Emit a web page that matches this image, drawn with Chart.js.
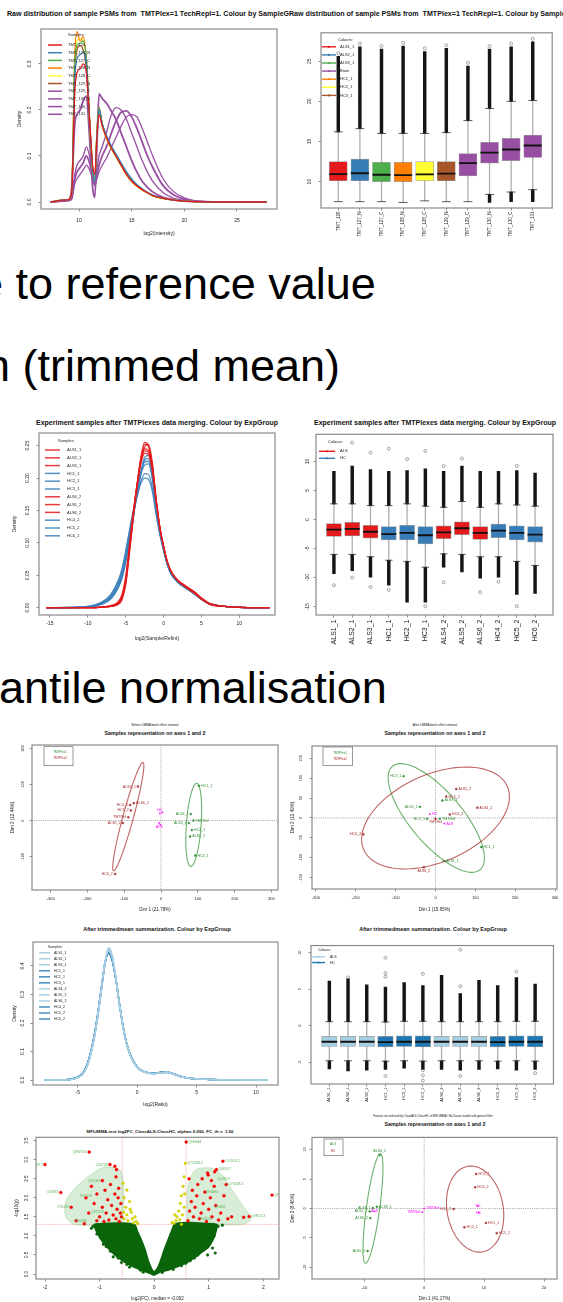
<!DOCTYPE html>
<html>
<head>
<meta charset="utf-8">
<title>TMT normalisation overview</title>
<script src="https://cdn.jsdelivr.net/npm/chart.js@4.4.1/dist/chart.umd.min.js"></script>
<style>
  html, body { margin: 0; padding: 0; background: #fff; }
  #page { position: relative; width: 563px; height: 1302px; overflow: hidden; background: #fff;
          font-family: 'Liberation Sans', Arial, Helvetica, sans-serif; color: #111; }
  #page canvas { position: absolute; }
  .big { position: absolute; font-size: 45px; line-height: 45px; white-space: nowrap; color: #000; }
  .t { position: absolute; white-space: nowrap; line-height: 1; transform: translate(-50%, -50%); }
  .l { transform: translateY(-50%); }
  .b { font-weight: bold; }
  .clip { position: absolute; overflow: hidden; }
</style>
</head>
<body>
<div id="page">
  <div class="clip" style="left:0;top:9px;width:289px;height:12px">
    <div class="t b l" style="left:7px;top:6px;font-size:7.1px">Raw distribution of sample PSMs from&nbsp; TMTPlex=1 TechRepl=1. Colour by SampleGroup</div>
  </div>
  <div class="t b l" style="left:289px;top:15px;font-size:7.1px">Raw distribution of sample PSMs from&nbsp; TMTPlex=1 TechRepl=1. Colour by SampleGroup</div>

  <div class="big" style="left:-22px;top:261px">e to reference value</div>
  <div class="big" style="left:-15px;top:343px">n (trimmed mean)</div>

  <div class="t b" style="left:157px;top:422px;font-size:7px">Experiment samples after TMTPlexes data merging. Colour by ExpGroup</div>
  <div class="t b" style="left:435px;top:422px;font-size:7px">Experiment samples after TMTPlexes data merging. Colour by ExpGroup</div>

  <div class="big" style="left:-61px;top:665px">Quantile normalisation</div>

  <div class="t" style="left:155px;top:725px;font-size:3px">Before LIMMA batch effect removal</div>
  <div class="t b" style="left:155px;top:734px;font-size:5.3px">Samples representation on axes 1 and 2</div>
  <div class="t" style="left:435px;top:725px;font-size:3px">After LIMMA batch effect removal</div>
  <div class="t b" style="left:435px;top:734px;font-size:5.3px">Samples representation on axes 1 and 2</div>

  <div class="t b" style="left:157px;top:930px;font-size:5.5px">After trimmedmean summarization. Colour by ExpGroup</div>
  <div class="t b" style="left:433px;top:930px;font-size:5.5px">After trimmedmean summarization. Colour by ExpGroup</div>

  <div class="t b" style="left:160px;top:1132px;font-size:4.4px">MFLIMMA-test log2FC_ClassALS-ClassHC, alpha= 0.050, FC_th =&nbsp; 1.50</div>
  <div class="t" style="left:433px;top:1116px;font-size:2.9px">Feature set selected by ClassALS-ClassHC of MFLIMMA / H=Classic model and general filter</div>
  <div class="t b" style="left:435px;top:1125px;font-size:5.3px">Samples representation on axes 1 and 2</div>
</div>

<script>
// ---------------- data ----------------

// raw PSM intensity densities, TMTPlex=1
const rawSamples = ['TMT_126', 'TMT_127_N', 'TMT_127_C', 'TMT_128_N', 'TMT_128_C', 'TMT_129_N', 'TMT_129_C', 'TMT_130_N', 'TMT_130_C', 'TMT_131'];
const rawX = [7.3, 8.5, 9.0, 9.3, 9.6, 9.8, 10.1, 10.4, 10.7, 11.0, 11.3, 11.5, 11.7, 11.9, 12.2, 12.6, 13.0, 13.5, 14.0, 14.5, 15.0, 15.5, 16.0, 16.5, 17.0, 18.0, 19.0, 20.0, 21.0, 22.0, 24.0, 27.8];
const raw126  = [0, 0.004, 0.005, 0.02, 0.24, 0.28, 0.29, 0.30, 0.28, 0.18, 0.08, 0.06, 0.14, 0.19, 0.165, 0.14, 0.12, 0.10, 0.08, 0.06, 0.045, 0.035, 0.027, 0.02, 0.014, 0.008, 0.004, 0.002, 0.001, 0.0005, 0, 0];
const raw127N = [0, 0.004, 0.005, 0.02, 0.27, 0.31, 0.32, 0.325, 0.30, 0.18, 0.07, 0.045, 0.14, 0.20, 0.17, 0.145, 0.125, 0.105, 0.085, 0.066, 0.05, 0.038, 0.029, 0.021, 0.015, 0.008, 0.004, 0.002, 0.001, 0.0005, 0, 0];
const raw127C = [0, 0.004, 0.005, 0.02, 0.30, 0.34, 0.345, 0.35, 0.31, 0.18, 0.065, 0.045, 0.15, 0.205, 0.17, 0.142, 0.12, 0.10, 0.08, 0.062, 0.047, 0.036, 0.027, 0.02, 0.014, 0.008, 0.004, 0.002, 0.001, 0.0005, 0, 0];
const raw128N = [0, 0.004, 0.005, 0.02, 0.32, 0.37, 0.35, 0.36, 0.31, 0.18, 0.07, 0.05, 0.15, 0.20, 0.17, 0.14, 0.12, 0.10, 0.08, 0.06, 0.045, 0.035, 0.027, 0.02, 0.014, 0.008, 0.004, 0.002, 0.001, 0.0005, 0, 0];
const raw128C = [0, 0.004, 0.005, 0.02, 0.31, 0.35, 0.355, 0.35, 0.31, 0.18, 0.07, 0.05, 0.15, 0.20, 0.165, 0.138, 0.118, 0.098, 0.078, 0.059, 0.044, 0.034, 0.026, 0.019, 0.013, 0.007, 0.004, 0.002, 0.001, 0.0005, 0, 0];
const raw129N = [0, 0.004, 0.005, 0.02, 0.28, 0.33, 0.34, 0.33, 0.29, 0.17, 0.07, 0.05, 0.15, 0.205, 0.17, 0.142, 0.12, 0.10, 0.08, 0.06, 0.046, 0.035, 0.027, 0.02, 0.014, 0.008, 0.004, 0.002, 0.001, 0.0005, 0, 0];
const raw129C = [0, 0.003, 0.005, 0.03, 0.17, 0.19, 0.20, 0.22, 0.23, 0.14, 0.03, 0.01, 0.12, 0.235, 0.225, 0.215, 0.20, 0.18, 0.15, 0.12, 0.09, 0.065, 0.045, 0.032, 0.022, 0.01, 0.005, 0.002, 0.001, 0, 0, 0];
const raw130N = [0, 0.002, 0.004, 0.01, 0.06, 0.08, 0.09, 0.10, 0.12, 0.10, 0.06, 0.045, 0.07, 0.10, 0.12, 0.15, 0.185, 0.205, 0.20, 0.18, 0.15, 0.12, 0.09, 0.065, 0.045, 0.02, 0.008, 0.003, 0.001, 0.0005, 0, 0];
const raw130C = [0, 0.002, 0.003, 0.008, 0.05, 0.065, 0.075, 0.085, 0.10, 0.085, 0.055, 0.04, 0.06, 0.08, 0.10, 0.12, 0.145, 0.175, 0.195, 0.198, 0.185, 0.16, 0.13, 0.10, 0.075, 0.035, 0.015, 0.006, 0.002, 0.001, 0, 0];
const raw131  = [0, 0.002, 0.003, 0.006, 0.04, 0.05, 0.06, 0.07, 0.08, 0.07, 0.05, 0.035, 0.05, 0.065, 0.08, 0.095, 0.115, 0.14, 0.165, 0.185, 0.19, 0.185, 0.16, 0.13, 0.10, 0.05, 0.022, 0.009, 0.003, 0.001, 0.0005, 0];
const rawXTicks = [10, 15, 20, 25];
const rawYTicks = [0, 0.1, 0.2, 0.3];

// raw boxplot (same samples), legend groups
const rawGroups = ['ALS1_1', 'ALS2_1', 'ALS3_1', 'Brain', 'HC1_1', 'HC2_1', 'HC3_1'];
const rawQ1     = [10.1, 10.1, 10.0, 10.0, 10.1, 10.1, 10.7, 12.3, 12.6, 13.0];
const rawMed    = [10.94, 11.04, 10.85, 10.8, 10.9, 11.0, 12.3, 13.6, 14.0, 14.5];
const rawQ3     = [12.5, 12.8, 12.4, 12.4, 12.5, 12.5, 13.5, 14.9, 15.4, 15.8];
const rawWhLo   = [7.5, 7.5, 7.5, 7.4, 7.6, 7.5, 7.5, 8.4, 8.7, 9.0];
const rawWhHi   = [16.2, 16.6, 16.0, 16.0, 16.0, 16.1, 17.6, 19.1, 20.0, 20.1];
const rawOutLo  = [null, null, null, null, null, null, null, 7.4, 7.5, 7.5];
const rawOutHi  = [25.6, 26.8, 26.5, 26.9, 26.2, 26.6, 24.4, 26.5, 26.8, 27.4];
const rawSpX    = [1, 2, 3, 4, 5, 6, 7, 8, 9, 10];
const rawSpY    = [26.0, 27.2, 26.9, 27.3, 26.6, 27.0, 24.8, 26.9, 27.2, 27.8];
const rawBoxYTicks = [10, 15, 20, 25];

// merged experiment (relative to reference)
const mergeSamples = ['ALS1_1', 'ALS2_1', 'ALS3_1', 'HC1_1', 'HC2_1', 'HC3_1', 'ALS4_2', 'ALS5_2', 'ALS6_2', 'HC4_2', 'HC5_2', 'HC6_2'];
const mergeGroup   = ['ALS', 'ALS', 'ALS', 'HC', 'HC', 'HC', 'ALS', 'ALS', 'ALS', 'HC', 'HC', 'HC'];
const mergeX = [-15.5, -10, -8, -7, -6, -5.5, -5, -4.5, -4, -3.5, -3, -2.5, -2, -1.5, -1, -0.5, 0, 0.5, 1, 1.5, 2, 3, 4, 5, 6, 8, 10, 14];
const mALS1_1 = [0, 0, 0.001, 0.002, 0.006, 0.015, 0.04, 0.09, 0.14, 0.185, 0.225, 0.248, 0.252, 0.225, 0.17, 0.125, 0.095, 0.07, 0.055, 0.046, 0.04, 0.032, 0.024, 0.014, 0.006, 0.002, 0.0005, 0];
const mALS2_1 = [0, 0, 0.001, 0.002, 0.007, 0.017, 0.043, 0.093, 0.145, 0.19, 0.228, 0.245, 0.243, 0.218, 0.168, 0.124, 0.094, 0.07, 0.056, 0.047, 0.04, 0.031, 0.023, 0.013, 0.006, 0.002, 0.0005, 0];
const mALS3_1 = [0, 0, 0.001, 0.003, 0.009, 0.02, 0.048, 0.098, 0.148, 0.19, 0.222, 0.238, 0.236, 0.212, 0.165, 0.123, 0.094, 0.071, 0.056, 0.047, 0.041, 0.032, 0.024, 0.014, 0.006, 0.002, 0.0005, 0];
const mHC1_1  = [0, 0.001, 0.008, 0.016, 0.035, 0.05, 0.075, 0.11, 0.14, 0.175, 0.205, 0.22, 0.222, 0.2, 0.155, 0.118, 0.09, 0.067, 0.052, 0.044, 0.038, 0.03, 0.022, 0.013, 0.006, 0.002, 0.0005, 0];
const mHC2_1  = [0, 0.001, 0.006, 0.013, 0.03, 0.045, 0.07, 0.105, 0.14, 0.178, 0.21, 0.228, 0.23, 0.205, 0.158, 0.12, 0.091, 0.068, 0.053, 0.045, 0.039, 0.03, 0.022, 0.013, 0.006, 0.002, 0.0005, 0];
const mHC3_1  = [0, 0.002, 0.01, 0.02, 0.042, 0.06, 0.088, 0.12, 0.15, 0.172, 0.192, 0.2, 0.198, 0.18, 0.145, 0.113, 0.088, 0.066, 0.052, 0.044, 0.038, 0.03, 0.022, 0.013, 0.006, 0.002, 0.0005, 0];
const mALS4_2 = [0, 0, 0.001, 0.002, 0.006, 0.014, 0.038, 0.088, 0.14, 0.188, 0.23, 0.252, 0.25, 0.222, 0.168, 0.124, 0.094, 0.07, 0.055, 0.047, 0.041, 0.033, 0.025, 0.015, 0.007, 0.002, 0.0005, 0];
const mALS5_2 = [0, 0, 0.001, 0.002, 0.005, 0.012, 0.035, 0.085, 0.138, 0.19, 0.232, 0.255, 0.25, 0.218, 0.165, 0.122, 0.093, 0.07, 0.055, 0.046, 0.04, 0.032, 0.025, 0.015, 0.007, 0.002, 0.0005, 0];
const mALS6_2 = [0, 0, 0.001, 0.003, 0.008, 0.018, 0.045, 0.095, 0.146, 0.19, 0.225, 0.242, 0.24, 0.215, 0.166, 0.123, 0.094, 0.07, 0.055, 0.046, 0.04, 0.032, 0.024, 0.014, 0.006, 0.002, 0.0005, 0];
const mHC4_2  = [0, 0.001, 0.007, 0.014, 0.032, 0.047, 0.072, 0.108, 0.142, 0.178, 0.208, 0.225, 0.226, 0.203, 0.157, 0.119, 0.09, 0.067, 0.052, 0.044, 0.038, 0.03, 0.022, 0.013, 0.006, 0.002, 0.0005, 0];
const mHC5_2  = [0, 0.002, 0.009, 0.018, 0.04, 0.057, 0.084, 0.116, 0.146, 0.172, 0.195, 0.207, 0.206, 0.186, 0.148, 0.115, 0.089, 0.067, 0.052, 0.044, 0.038, 0.03, 0.022, 0.013, 0.006, 0.002, 0.0005, 0];
const mHC6_2  = [0, 0.001, 0.008, 0.016, 0.036, 0.052, 0.078, 0.112, 0.144, 0.178, 0.208, 0.232, 0.235, 0.21, 0.16, 0.12, 0.091, 0.068, 0.053, 0.045, 0.039, 0.031, 0.023, 0.013, 0.006, 0.002, 0.0005, 0];
const mergeXTicks = [-15, -10, -5, 0, 5, 10];
const mergeYTicks = [0, 0.05, 0.10, 0.15, 0.20, 0.25];

const mergeQ1   = [-2.9, -2.8, -3.2, -3.5, -3.5, -4.2, -3.3, -2.6, -3.4, -3.1, -3.5, -3.9];
const mergeMed  = [-1.75, -1.6, -2.1, -2.5, -2.3, -2.7, -2.2, -1.5, -2.3, -1.9, -2.3, -2.6];
const mergeQ3   = [-0.7, -0.5, -1.0, -1.2, -1.0, -1.2, -1.1, -0.4, -1.2, -0.8, -1.1, -1.2];
const mergeWhLo = [-6.0, -6.0, -6.4, -7.0, -7.2, -8.2, -5.9, -6.0, -6.4, -6.4, -7.2, -7.9];
const mergeWhHi = [2.7, 2.7, 2.4, 2.4, 2.7, 2.3, 2.1, 3.1, 2.1, 2.7, 2.5, 2.3];
const mergeOutLo = [-9.3, -8.8, -9.9, -11.3, -14.2, -14.2, -8.2, -9.0, -10.1, -9.9, -12.9, -12.7];
const mergeOutHi = [8.3, 9.2, 8.6, 8.3, 8.4, 8.7, 8.3, 9.2, 8.3, 8.3, 8.4, 8.0];
const mergeSpX = [1, 2, 2, 3, 3, 4, 4, 5, 6, 6, 7, 7, 8, 9, 10, 11, 11];
const mergeSpY = [-11.3, 13.2, -10.0, 11.5, -11.6, 12.2, -12.1, 10.4, 11.8, -14.9, 9.2, -10.8, 10.5, -12.5, -10.7, 9.2, -14.9];
const mergeBoxYTicks = [-15, -10, -5, 0, 5, 10];

// PCA before LIMMA batch removal
const pbP1Names = ['HC1_1', 'ALS3_1', 'ALS2_1', 'TMTRef', 'HC2_1', 'ALS1_1', 'HC3_1'];
const pbP1X = [103, 81, 76, 88, 84, 79, 93];
const pbP1Y = [96, 18, -7, 0, -26, -44, -97];
const pbP2Names = ['ALS4_2', 'HC4_2', 'ALS6_2', 'HC5_2', 'TMTRef', 'ALS5_2', 'HC6_2'];
const pbP2X = [-63, -84, -74, -82, -89, -104, -125];
const pbP2Y = [94, 43, 48, 28, 9, -7, -148];
const pbCenNames = ['HC', '', 'ALS', ''];
const pbCenX = [-3, 4, -5, -2];
const pbCenY = [20, 22, -7, -12];
const pbEll1 = [89, -12, 8, 115, 20, -1];      // centre x,y ; axis u ; axis v
const pbEll2 = [-89, 11, 40, 150, 14, -3];
const pcaBXTicks = [-300, -200, -100, 0, 100, 200, 300];
const pcaBYTicks = [-100, 0, 100, 200];

// PCA after LIMMA batch removal
const paP1Names = ['HC3_1', 'ALS2_1', 'HC2_1', 'ALS3_1', 'TMTRef', 'HC1_1', 'ALS1_1'];
const paP1X = [-80, -39, -21, 17, 11, 115, 21];
const paP1Y = [105, 28, -2, 44, -2, -73, -108];
const paP2Names = ['ALS5_2', 'HC5_2', 'ALS4_2', 'HC4_2', 'TMTRef', 'HC6_2', 'ALS6_2'];
const paP2X = [52, 27, 105, 36, 0, -181, -29];
const paP2Y = [73, 54, 26, 9, -2, -41, -124];
const paCenNames = ['HC', 'ALS'];
const paCenX = [-14, 22];
const paCenY = [10, -14];
const paEll1 = [2, 0, -110, 130, 50, 42];
const paEll2 = [0, 0, 180, 80, -45, 100];
const pcaAXTicks = [-300, -200, -100, 0, 100, 200, 300];
const pcaAYTicks = [-150, -100, -50, 0, 50, 100, 150];

// after trimmed-mean summarisation
const trimX = [-7.8, -6, -5.2, -4.6, -4.2, -3.8, -3.4, -3.0, -2.7, -2.4, -2.1, -1.8, -1.5, -1.2, -0.9, -0.5, 0, 0.5, 1, 1.5, 2, 2.5, 3, 3.5, 4, 5, 6, 8, 11];
const tALS1_1 = [0, 0.001, 0.006, 0.021, 0.052, 0.112, 0.205, 0.325, 0.415, 0.46, 0.432, 0.358, 0.268, 0.188, 0.128, 0.079, 0.045, 0.03, 0.024, 0.023, 0.026, 0.027, 0.022, 0.014, 0.009, 0.004, 0.002, 0.0005, 0];
const tALS2_1 = [0, 0.001, 0.005, 0.019, 0.049, 0.108, 0.198, 0.318, 0.41, 0.452, 0.428, 0.36, 0.272, 0.192, 0.131, 0.081, 0.046, 0.031, 0.025, 0.023, 0.026, 0.028, 0.022, 0.014, 0.009, 0.004, 0.002, 0.0005, 0];
const tALS3_1 = [0, 0.001, 0.006, 0.02, 0.05, 0.11, 0.202, 0.322, 0.412, 0.457, 0.43, 0.359, 0.27, 0.19, 0.13, 0.08, 0.045, 0.03, 0.024, 0.022, 0.025, 0.027, 0.022, 0.014, 0.009, 0.004, 0.002, 0.0005, 0];
const tHC1_1  = [0, 0.001, 0.007, 0.022, 0.054, 0.114, 0.206, 0.324, 0.41, 0.448, 0.424, 0.357, 0.27, 0.191, 0.131, 0.081, 0.046, 0.031, 0.025, 0.024, 0.027, 0.027, 0.022, 0.014, 0.009, 0.004, 0.002, 0.0005, 0];
const tHC2_1  = [0, 0.001, 0.006, 0.021, 0.051, 0.111, 0.201, 0.319, 0.408, 0.45, 0.427, 0.358, 0.271, 0.19, 0.13, 0.08, 0.045, 0.03, 0.024, 0.023, 0.026, 0.027, 0.022, 0.014, 0.009, 0.004, 0.002, 0.0005, 0];
const tHC3_1  = [0, 0.001, 0.007, 0.023, 0.055, 0.116, 0.208, 0.326, 0.413, 0.446, 0.42, 0.355, 0.27, 0.192, 0.132, 0.082, 0.047, 0.031, 0.025, 0.024, 0.026, 0.027, 0.022, 0.014, 0.009, 0.004, 0.002, 0.0005, 0];
const tALS4_2 = [0, 0.001, 0.005, 0.019, 0.048, 0.107, 0.196, 0.316, 0.41, 0.462, 0.436, 0.362, 0.27, 0.189, 0.129, 0.079, 0.044, 0.03, 0.024, 0.023, 0.026, 0.027, 0.022, 0.014, 0.009, 0.004, 0.002, 0.0005, 0];
const tALS5_2 = [0, 0.001, 0.006, 0.02, 0.05, 0.109, 0.2, 0.321, 0.414, 0.465, 0.438, 0.361, 0.268, 0.187, 0.128, 0.079, 0.044, 0.029, 0.023, 0.022, 0.025, 0.026, 0.021, 0.014, 0.009, 0.004, 0.002, 0.0005, 0];
const tALS6_2 = [0, 0.001, 0.006, 0.02, 0.05, 0.11, 0.201, 0.32, 0.411, 0.455, 0.43, 0.36, 0.27, 0.19, 0.13, 0.08, 0.045, 0.03, 0.024, 0.023, 0.026, 0.027, 0.022, 0.014, 0.009, 0.004, 0.002, 0.0005, 0];
const tHC4_2  = [0, 0.001, 0.007, 0.022, 0.053, 0.113, 0.204, 0.323, 0.41, 0.45, 0.425, 0.357, 0.271, 0.191, 0.131, 0.081, 0.046, 0.031, 0.025, 0.024, 0.027, 0.028, 0.023, 0.015, 0.009, 0.004, 0.002, 0.0005, 0];
const tHC5_2  = [0, 0.001, 0.007, 0.023, 0.056, 0.117, 0.21, 0.328, 0.414, 0.444, 0.418, 0.354, 0.27, 0.192, 0.132, 0.082, 0.047, 0.031, 0.025, 0.024, 0.027, 0.028, 0.023, 0.015, 0.009, 0.004, 0.002, 0.0005, 0];
const tHC6_2  = [0, 0.001, 0.006, 0.021, 0.052, 0.112, 0.203, 0.322, 0.409, 0.452, 0.428, 0.358, 0.27, 0.19, 0.13, 0.08, 0.045, 0.03, 0.024, 0.023, 0.026, 0.027, 0.022, 0.014, 0.009, 0.004, 0.002, 0.0005, 0];
const trimXTicks = [-5, 0, 5, 10];
const trimYTicks = [0, 0.1, 0.2, 0.3, 0.4];

const trimQ1   = [-2.85, -2.85, -2.85, -2.9, -2.85, -2.9, -2.85, -2.85, -2.85, -2.9, -2.85, -2.9];
const trimMed  = [-2.2, -2.2, -2.2, -2.25, -2.2, -2.2, -2.2, -2.2, -2.2, -2.25, -2.2, -2.2];
const trimQ3   = [-1.45, -1.45, -1.45, -1.45, -1.4, -1.4, -1.45, -1.45, -1.45, -1.45, -1.4, -1.4];
const trimWhLo = [-4.8, -4.8, -4.8, -4.85, -4.8, -4.85, -4.8, -4.8, -4.8, -4.85, -4.8, -4.85];
const trimWhHi = [0.55, 0.55, 0.55, 0.5, 0.6, 0.6, 0.55, 0.55, 0.55, 0.55, 0.6, 0.6];
const trimOutLo = [-5.9, -6.2, -6.1, -6.0, -5.8, -6.0, -6.0, -6.1, -6.0, -5.9, -6.1, -6.0];
const trimOutHi = [6.1, 6.4, 5.6, 5.3, 5.9, 5.5, 6.9, 4.4, 6.2, 5.5, 6.6, 5.7];
const trimSpX = [2, 4, 4, 4, 6, 8, 8, 11, 4, 6, 6, 6, 8, 12];
const trimSpY = [6.6, 6.7, 7.2, 9.3, 7.1, 5.4, 10.4, 7.4, -6.9, -6.1, -6.8, -7.5, -6.9, -6.5];
const trimBoxYTicks = [-5, 0, 5, 10];

// volcano plot (MFLIMMA test)
const volcCloudX = [0, -0.14, -0.38, -0.55, -0.72, -0.86, -0.97, -1.05, -1.1, -0.9, -0.6, -0.36, -0.3, -0.23, -0.16, -0.11, -0.06, -0.02, 0.02, 0.07, 0.12, 0.18, 0.25, 0.31, 0.37, 0.44, 0.65, 0.9, 1.15, 1.13, 1.08, 1.0, 0.88, 0.76, 0.6, 0.42, 0.25, 0.11, 0];
const volcCloudY = [-0.03, 0.05, 0.19, 0.32, 0.5, 0.7, 0.9, 1.1, 1.3, 1.33, 1.34, 1.3, 1.1, 0.88, 0.62, 0.36, 0.18, 0.08, 0.08, 0.18, 0.36, 0.62, 0.88, 1.1, 1.3, 1.34, 1.35, 1.33, 1.3, 1.1, 0.9, 0.71, 0.58, 0.45, 0.3, 0.19, 0.1, 0.05, -0.03];
const volcNsX = [-1.12, -1.05, -0.98, -0.93, -0.88, -0.8, -0.75, -0.66, -0.6, -0.5, -0.45, -0.25, 1.17, 1.12, 1.1, 1.05, 1.0, 0.95, 0.9, 0.82, 0.74, 0.66, 0.58, 0.5, 0.35, 1.12, 1.25, 0.98, 1.07, -1.15, -0.7, 0.8, -0.2, 0.15];
const volcNsY = [1.25, 1.05, 0.95, 0.78, 0.72, 0.6, 0.45, 0.42, 0.3, 0.25, 0.18, 0.1, 1.25, 1.15, 1.0, 0.95, 0.8, 0.7, 0.62, 0.55, 0.42, 0.35, 0.28, 0.22, 0.12, 0.55, 1.28, 0.5, 0.68, 1.2, 0.55, 0.5, 0.05, 0.04];
const volcLabBlobLX = [-0.6, -1.45, -1.62, -1.62, -1.48, -1.3, -1.12, -0.92, -0.62, -0.56, -0.56, -0.6];
const volcLabBlobLY = [1.3, 1.3, 1.5, 1.9, 2.2, 2.45, 2.65, 2.8, 2.72, 2.2, 1.6, 1.3];
const volcLabBlobRX = [0.6, 1.6, 1.78, 1.62, 1.48, 1.36, 1.25, 1.05, 0.75, 0.62, 0.6, 0.6];
const volcLabBlobRY = [1.3, 1.3, 1.45, 1.8, 2.1, 2.35, 2.6, 2.78, 2.72, 2.3, 1.8, 1.3];
const volcSigX = [-2.0, -1.19, 0.587, 2.16, -1.71, -1.52, -1.43, -1.28, 1.26, 1.14, 1.11, 0.99, 1.32, 1.64, 1.74, -0.72, -0.69, -0.81,
  -1.15, -1.05, -0.95, -0.9, -0.85, -0.8, -0.78, -0.75, -0.72, -0.7, -0.68, -0.66, -0.64, -0.62, -0.61, -0.88, -0.95, -1.0, -1.1, -1.2, -0.83, -0.92, -1.05, -0.7, -0.65, -1.25, -0.6,
  0.62, 0.65, 0.68, 0.7, 0.72, 0.75, 0.78, 0.8, 0.83, 0.86, 0.9, 0.93, 0.96, 1.0, 1.03, 1.06, 1.1, 1.13, 1.18, 1.22, 1.28, 0.64, 0.88, 1.05, 1.35, 1.42, 0.98];
const volcSigY = [2.87, 3.2, 3.46, 2.07, 2.14, 1.75, 1.4, 1.32, 2.96, 2.74, 2.68, 2.6, 2.35, 1.49, 1.51, 2.83, 2.74, 2.87,
  2.3, 2.1, 2.45, 2.2, 1.95, 2.35, 1.8, 1.55, 2.1, 1.45, 1.7, 2.0, 1.38, 1.6, 1.85, 1.6, 1.75, 1.5, 1.85, 1.6, 1.42, 1.38, 1.4, 2.55, 2.25, 2.0, 1.5,
  1.4, 1.65, 1.9, 2.2, 1.5, 1.75, 2.05, 2.35, 1.45, 1.6, 1.85, 2.15, 1.38, 1.7, 2.0, 1.5, 2.3, 1.8, 1.42, 1.6, 2.05, 2.5, 2.5, 2.45, 1.45, 1.5, 2.65];
const volcMidX = [-0.57, -0.55, -0.52, -0.5, -0.48, -0.45, -0.42, -0.4, -0.38, -0.35, -0.33, -0.55, -0.5, -0.44, -0.3, -0.56,
  0.55, 0.57, 0.53, 0.5, 0.48, 0.45, 0.42, 0.4, 0.36, 0.55, 0.52, 0.47, 0.56, 0.38, 0.33, 0.5];
const volcMidY = [2.38, 2.0, 1.75, 1.55, 1.4, 1.9, 1.62, 1.45, 1.34, 1.5, 1.38, 1.45, 2.2, 1.7, 1.32, 1.62,
  2.55, 2.9, 2.3, 2.05, 1.85, 1.65, 1.5, 1.4, 1.33, 1.75, 1.55, 1.42, 2.1, 1.55, 1.35, 1.3];
const volcLabText = ['Q8WXD5', 'Q9NZT2', 'O43865', 'Q14764', 'Q9H4A4', 'Q72588-2', 'O14924-2', 'Q8IXQ7', 'Q8N3E9', 'Q9NQC3', 'O75628-3', 'P51159',
  'Q15084', 'P07195', 'Q9Y2Z0', 'P26038', 'Q96AE4', 'O95861', 'P08133', 'Q13813'];
const volcLabX = [-1.19, -2.0, -1.71, -0.81, 0.587, 0.57, 1.26, 1.14, 2.16, 1.74, 1.32, -1.52,
  -0.95, -1.1, -0.88, -1.2, 0.9, 1.05, 0.8, 1.12];
const volcLabY = [3.2, 2.87, 2.14, 2.87, 3.46, 2.9, 2.96, 2.74, 2.07, 1.51, 2.35, 1.75,
  2.45, 2.05, 1.62, 1.4, 2.15, 1.75, 1.45, 2.5];
const volcFcCut = [-0.585, 0.585];
const volcPCut = [1.301];
const volcXTicks = [-2, -1, 0, 1, 2];
const volcYTicks = [0, 0.5, 1.0, 1.5, 2.0, 2.5, 3.0, 3.5];

// PCA on selected features
const pfALSNames = ['ALS4_2', 'ALS1_1', 'ALS2_1', 'ALS3_1', 'ALS6_2', 'ALS5_2'];
const pfALSX = [-7.44, -8.56, -9.1, -7.9, -9.0, -9.44];
const pfALSY = [9.1, 0.07, -0.5, 0.3, -1.6, -7.2];
const pfHCNames = ['HC3_1', 'HC6_2', 'HC4_2', 'HC2_1', 'HC1_1', 'HC5_2'];
const pfHCX = [8.67, 8.5, 4.9, 6.7, 10.3, 12.1];
const pfHCY = [5.87, 3.6, -0.1, -3.2, -2.45, -4.2];
const pfCenNames = ['TMTRef', 'TMTRef', 'HC', 'HC', 'ALS'];
const pfCenX = [0, -0.3, 9.0, 9.1, -8.3];
const pfCenY = [0, -0.6, 0.4, -0.7, -0.5];
const pfEllALS = [-8.55, 0, 1.25, 9.3, 1.1, -0.15];
const pfEllHC = [8.5, -0.1, -0.9, 7.3, 4.7, 0.3];
const pcaFXTicks = [-10, 0, 10, 20];
const pcaFYTicks = [-10, -5, 0, 5, 10];

// ---------------- styles and layout ----------------
const F = "'Liberation Sans', Arial, Helvetica, sans-serif";
const SET1 = { red: '#E41A1C', blue: '#377EB8', green: '#4DAF4A', purple: '#984EA3', orange: '#FF7F00', yellow: '#FFFF33', brown: '#A65628' };
const rawColors = [SET1.red, SET1.blue, SET1.green, SET1.orange, SET1.yellow, SET1.brown, SET1.purple, SET1.purple, SET1.purple, SET1.purple];
const rawWidths = [1.3, 1.3, 1.3, 1.3, 1.3, 1.3, 1.8, 1.3, 1.8, 1.3];
const rawGroupColors = [SET1.red, SET1.blue, SET1.green, SET1.purple, SET1.orange, SET1.yellow, SET1.brown];
const grpRB = { ALS: 'rgba(228,26,28,0.85)', HC: 'rgba(55,126,184,0.85)' };
const grpPaired = { ALS: '#A6CEE3', HC: '#1F78B4' };
const pcaGreen = '#2E8B2E', pcaRed = '#A52A2A', pcaMag = '#FF00FF';
const ellGreen = 'rgba(60,150,60,0.75)', ellRed = 'rgba(170,50,50,0.75)';

const geo = {
  raw:       { c: [0, 22, 287, 242],     box: [41, 29, 277, 209] },
  rawBox:    { c: [289, 22, 563, 242],   box: [321, 29, 555, 208] },
  merge:     { c: [0, 425, 287, 652],    box: [39, 433, 275, 615] },
  mergeBox:  { c: [289, 425, 563, 668],  box: [316, 433, 553, 615] },
  pcaB:      { c: [0, 740, 287, 918],    box: [32, 745, 278, 890] },
  pcaA:      { c: [287, 740, 563, 918],  box: [312, 746, 557, 889] },
  trim:      { c: [0, 936, 287, 1112],   box: [33, 942, 278, 1085] },
  trimBox:   { c: [289, 936, 563, 1112], box: [311, 942, 555, 1084] },
  volc:      { c: [0, 1133, 287, 1302],  box: [36, 1136, 279, 1279] },
  pcaF:      { c: [287, 1133, 563, 1302], box: [312, 1136, 557, 1279] }
};

// ---------------- helpers ----------------
const rPlot = {
  id: 'rPlot',
  beforeDatasetsDraw(chart, args, o) {
    const { ctx, chartArea: a, scales: { x, y } } = chart;
    ctx.save();
    ctx.strokeStyle = o.refColor || 'rgba(90,90,90,0.8)';
    ctx.lineWidth = 0.7;
    ctx.setLineDash(o.refDash || [1, 1.2]);
    (o.refX || []).forEach(v => { const p = x.getPixelForValue(v); ctx.beginPath(); ctx.moveTo(p, a.top); ctx.lineTo(p, a.bottom); ctx.stroke(); });
    (o.refY || []).forEach(v => { const p = y.getPixelForValue(v); ctx.beginPath(); ctx.moveTo(a.left, p); ctx.lineTo(a.right, p); ctx.stroke(); });
    ctx.restore();
  },
  afterDatasetsDraw(chart, args, o) {
    const { ctx, chartArea: a, scales: { x, y } } = chart;
    ctx.save();
    ctx.beginPath(); ctx.rect(a.left, a.top, a.right - a.left, a.bottom - a.top); ctx.clip();
    (o.ellipses || []).forEach(e => {
      const p = e.p;
      ctx.beginPath();
      for (let k = 0; k <= 90; k++) {
        const t = k / 90 * 2 * Math.PI;
        const px = x.getPixelForValue(p[0] + p[2] * Math.cos(t) + p[4] * Math.sin(t));
        const py = y.getPixelForValue(p[1] + p[3] * Math.cos(t) + p[5] * Math.sin(t));
        if (k) ctx.lineTo(px, py); else ctx.moveTo(px, py);
      }
      ctx.strokeStyle = e.color; ctx.lineWidth = 1.1; ctx.stroke();
    });
    chart.data.datasets.forEach((ds, i) => {
      if (!ds.labels) return;
      const meta = chart.getDatasetMeta(i);
      ctx.fillStyle = ds.labelColor || ds.borderColor;
      ctx.font = (ds.labelSize || 3.6) + 'px ' + F;
      ctx.textBaseline = 'middle';
      meta.data.forEach((el, j) => {
        const t = ds.labels[j];
        if (!t) return;
        const s = (ds.sides && ds.sides[j]) || 'r';
        let tx = el.x, ty = el.y;
        if (s === 'r') { ctx.textAlign = 'left'; tx += 2.2; }
        else if (s === 'l') { ctx.textAlign = 'right'; tx -= 2.2; }
        else if (s === 'b') { ctx.textAlign = 'center'; ty += 3.5; }
        else if (s === 'a') { ctx.textAlign = 'center'; ty -= 3.5; }
        else ctx.textAlign = 'center';
        ctx.fillText(t, tx, ty);
      });
    });
    ctx.restore();
  },
  afterDraw(chart, args, o) {
    const { ctx, chartArea: a } = chart;
    ctx.save();
    ctx.strokeStyle = '#8a8a8a'; ctx.lineWidth = 1.2;
    ctx.strokeRect(a.left, a.top, a.right - a.left, a.bottom - a.top);
    if (o.yLab) {
      const ys = chart.scales.y;
      ctx.fillStyle = '#222'; ctx.font = (o.yLab.fs || 5) + 'px ' + F;
      ctx.textAlign = 'center'; ctx.textBaseline = 'middle';
      ys.ticks.forEach(t => {
        ctx.save();
        ctx.translate(o.yLab.x, ys.getPixelForValue(t.value));
        ctx.rotate(-Math.PI / 2);
        ctx.fillText(o.yLab.fmt(t.value), 0, 0);
        ctx.restore();
      });
    }
    const L = o.legend;
    if (L) {
      const x0 = a.left, y0 = a.top;
      if (L.box) { ctx.strokeStyle = '#555'; ctx.lineWidth = 0.6; ctx.strokeRect(x0 + L.box[0], y0 + L.box[1], L.box[2] - L.box[0], L.box[3] - L.box[1]); }
      ctx.font = L.fs + 'px ' + F; ctx.textBaseline = 'middle';
      if (L.title) { ctx.fillStyle = '#222'; ctx.textAlign = 'left'; ctx.fillText(L.title, x0 + L.tx0, y0 + L.ty); }
      L.items.forEach((it, k) => {
        const yy = y0 + L.y + k * L.dy;
        if (L.line) {
          ctx.strokeStyle = it.c; ctx.lineWidth = L.lw;
          ctx.beginPath(); ctx.moveTo(x0 + L.line[0], yy); ctx.lineTo(x0 + L.line[1], yy); ctx.stroke();
          if (L.pt) { ctx.fillStyle = it.c; ctx.beginPath(); ctx.arc(x0 + (L.line[0] + L.line[1]) / 2, yy, 1.1, 0, 2 * Math.PI); ctx.fill(); }
        }
        ctx.fillStyle = L.colorText ? it.c : '#222';
        ctx.textAlign = L.align || 'left';
        ctx.fillText(it.t, x0 + L.tx, yy);
      });
    }
    ctx.restore();
  }
};
Chart.register(rPlot);
Chart.defaults.font.family = F;

function mkCanvas(g) {
  const cv = document.createElement('canvas');
  cv.width = g.c[2] - g.c[0];
  cv.height = g.c[3] - g.c[1];
  cv.style.left = g.c[0] + 'px';
  cv.style.top = g.c[1] + 'px';
  document.getElementById('page').appendChild(cv);
  return cv.getContext('2d');
}

const tickGrid = { drawOnChartArea: false, drawTicks: true, tickLength: 2.5, color: '#444', lineWidth: 0.6, offset: false };

function axisX(g, min, max, ticks, o) {
  return {
    type: 'linear', position: 'bottom', min: min, max: max, offset: false,
    afterBuildTicks: s => { s.ticks = ticks.map(v => ({ value: v })); },
    afterFit: s => { s.height = g.c[3] - g.box[3]; s.paddingLeft = 0; s.paddingRight = 0; },
    grid: tickGrid, border: { display: false },
    ticks: {
      font: { size: o.fs || 5, family: F }, color: '#222', padding: o.pad, autoSkip: false,
      minRotation: o.rot || 0, maxRotation: o.rot || 0,
      callback: o.labels ? (v, i) => o.labels[i] : (v => String(v))
    },
    title: { display: !!o.title, text: o.title, font: { size: o.tfs || 5, family: F }, color: '#222', padding: { top: 0, bottom: o.tpb || 0 } }
  };
}

function axisY(g, min, max, ticks, o) {
  return {
    type: 'linear', position: 'left', min: min, max: max,
    afterBuildTicks: s => { s.ticks = ticks.map(v => ({ value: v })); },
    afterFit: s => { s.width = g.box[0] - g.c[0]; s.paddingTop = 0; s.paddingBottom = 0; },
    grid: tickGrid, border: { display: false },
    ticks: { display: false },
    title: { display: !!o.title, text: o.title, font: { size: o.tfs || 5, family: F }, color: '#222', padding: { top: o.tpt || 0, bottom: 0 } }
  };
}

function baseOpts(g, x, y, rp) {
  return {
    responsive: false, animation: false, events: [],
    layout: { padding: { left: 0, top: g.box[1] - g.c[1], right: g.c[2] - g.box[2], bottom: 0 } },
    scales: { x: x, y: y },
    plugins: { legend: { display: false }, tooltip: { enabled: false }, rPlot: rp }
  };
}

function curves(xs, ys, names, colors, widths) {
  return ys.map((arr, k) => ({
    type: 'line', label: names[k],
    data: arr.map((v, i) => ({ x: xs[i], y: v })),
    borderColor: colors[k], borderWidth: widths[k], pointRadius: 0,
    cubicInterpolationMode: 'monotone', fill: false
  }));
}

function pts(xs, ys) { return xs.map((x, i) => ({ x: x, y: ys[i] })); }

function boxSets(s, fills, boxPx) {
  const idx = s.q1.map((_, i) => i + 1);
  const seg = (lo, hi) => idx.map((x, i) => (lo[i] == null || hi[i] == null) ? null : { x: x, y: [lo[i], hi[i]] }).filter(Boolean);
  const caps = idx.map((x, i) => ({ x: x, y: s.whHi[i] })).concat(idx.map((x, i) => ({ x: x, y: s.whLo[i] })));
  return [
    { type: 'scatter', data: idx.map((x, i) => ({ x: x, y: s.med[i] })), pointStyle: 'line', pointRadius: boxPx / 2, borderColor: '#111', borderWidth: 1.8 },
    { type: 'bar', data: seg(s.q1, s.q3), backgroundColor: fills, borderColor: 'rgba(80,80,80,0.55)', borderWidth: 0.7, borderSkipped: false, barThickness: boxPx, grouped: false },
    { type: 'scatter', data: caps, pointStyle: 'line', pointRadius: boxPx / 4, borderColor: '#333', borderWidth: 0.8 },
    { type: 'scatter', data: pts(s.spX, s.spY), pointStyle: 'circle', pointRadius: 1.5, borderColor: 'rgba(60,60,60,0.75)', backgroundColor: 'rgba(0,0,0,0)', borderWidth: 0.6 },
    { type: 'bar', data: seg(s.whHi, s.outHi).concat(seg(s.outLo, s.whLo)), backgroundColor: '#151515', barThickness: 2.8, grouped: false },
    { type: 'bar', data: seg(s.q3, s.whHi).concat(seg(s.whLo, s.q1)), backgroundColor: 'rgba(150,150,150,0.8)', barThickness: 0.6, grouped: false }
  ];
}

function boxXAxis(g, n, labels, pad, fs) {
  return axisX(g, 0.02, n + 0.98, labels.map((_, i) => i + 1), { pad: pad, rot: 90, labels: labels, fs: fs });
}

// ---------------- charts ----------------
const rawDensity = [raw126, raw127N, raw127C, raw128N, raw128C, raw129N, raw129C, raw130N, raw130C, raw131];
new Chart(mkCanvas(geo.raw), {
  type: 'line',
  data: { datasets: curves(rawX, rawDensity, rawSamples, rawColors, rawWidths) },
  options: baseOpts(geo.raw,
    axisX(geo.raw, 6.39, 28.8, rawXTicks, { pad: 6.5, title: 'log2(intensity)', tpb: 5 }),
    axisY(geo.raw, -0.0152, 0.376, rawYTicks, { title: 'Density', tpt: 17 }),
    { yLab: { x: 30, fmt: v => v.toFixed(1) },
      legend: { title: 'Samples:', tx0: 27, ty: 6, y: 16, dy: 7.7, line: [7, 21], lw: 1.5, tx: 27, fs: 4,
                items: rawSamples.map((t, k) => ({ t: t, c: rawColors[k] })) } })
});

new Chart(mkCanvas(geo.rawBox), {
  type: 'bar',
  data: { datasets: boxSets({ q1: rawQ1, med: rawMed, q3: rawQ3, whLo: rawWhLo, whHi: rawWhHi, outLo: rawOutLo, outHi: rawOutHi, spX: rawSpX, spY: rawSpY }, rawColors, 18) },
  options: baseOpts(geo.rawBox,
    axisX(geo.rawBox, 0.2, 10.9, rawSamples.map((_, i) => i + 1), { pad: 1, rot: 90, labels: rawSamples, fs: 4.5 }),
    axisY(geo.rawBox, 6.71, 28.54, rawBoxYTicks, {}),
    { yLab: { x: 21, fmt: v => String(v) },
      legend: { title: 'Colours:', tx0: 17, ty: 7, y: 14, dy: 8.1, line: [1, 15], lw: 1.4, pt: true, tx: 19, fs: 4,
                items: rawGroups.map((t, k) => ({ t: t, c: rawGroupColors[k] })) } })
});

const mergeDensity = [mALS1_1, mALS2_1, mALS3_1, mHC1_1, mHC2_1, mHC3_1, mALS4_2, mALS5_2, mALS6_2, mHC4_2, mHC5_2, mHC6_2];
const mergeColors = mergeGroup.map(g => grpRB[g]);
new Chart(mkCanvas(geo.merge), {
  type: 'line',
  data: { datasets: curves(mergeX, mergeDensity, mergeSamples, mergeColors, mergeSamples.map(() => 1.3)) },
  options: baseOpts(geo.merge,
    axisX(geo.merge, -16.45, 14.71, mergeXTicks, { pad: 3.5, title: 'log2(Sample/Refint)', tpb: 10 }),
    axisY(geo.merge, -0.0113, 0.2696, mergeYTicks, { title: 'Density', tpt: 12 }),
    { yLab: { x: 28, fmt: v => v.toFixed(2) },
      legend: { title: 'Samples:', tx0: 19, ty: 8, y: 17, dy: 7.8, line: [6, 21], lw: 1.5, tx: 28, fs: 4,
                items: mergeSamples.map((t, k) => ({ t: t, c: mergeColors[k] })) } })
});

new Chart(mkCanvas(geo.mergeBox), {
  type: 'bar',
  data: { datasets: boxSets({ q1: mergeQ1, med: mergeMed, q3: mergeQ3, whLo: mergeWhLo, whHi: mergeWhHi, outLo: mergeOutLo, outHi: mergeOutHi, spX: mergeSpX, spY: mergeSpY },
                            mergeGroup.map(g => g === 'ALS' ? SET1.red : SET1.blue), 15) },
  options: baseOpts(geo.mergeBox,
    boxXAxis(geo.mergeBox, 12, mergeSamples, 2, 7),
    axisY(geo.mergeBox, -16.42, 14.66, mergeBoxYTicks, {}),
    { yLab: { x: 19, fmt: v => String(v) },
      legend: { title: 'Colours:', tx0: 12, ty: 8, y: 17, dy: 7, line: [3, 19], lw: 1.4, pt: true, tx: 24, fs: 4,
                items: [{ t: 'ALS', c: SET1.red }, { t: 'HC', c: SET1.blue }] } })
});

function pcaSet(xs, ys, names, sides, color, style) {
  return { type: 'scatter', data: pts(xs, ys), labels: names, sides: sides, labelColor: color,
           pointStyle: style || 'circle', pointRadius: 1, backgroundColor: color, borderColor: color, borderWidth: 0.4 };
}

new Chart(mkCanvas(geo.pcaB), {
  type: 'scatter',
  data: { datasets: [
    pcaSet(pbCenX, pbCenY, pbCenNames, ['a', 'a', 'b', 'b'], pcaMag, 'triangle'),
    pcaSet(pbP1X, pbP1Y, pbP1Names, ['r', 'l', 'l', 'r', 'r', 'r', 'r'], pcaGreen),
    pcaSet(pbP2X, pbP2Y, pbP2Names, ['l', 'l', 'r', 'l', 'l', 'l', 'l'], pcaRed)
  ] },
  options: baseOpts(geo.pcaB,
    axisX(geo.pcaB, -350.9, 318.2, pcaBXTicks, { pad: 4.1, fs: 4, title: 'Dim 1 (21.78%)', tfs: 4.5, tpb: 5.3 }),
    axisY(geo.pcaB, -192.2, 209.1, pcaBYTicks, { title: 'Dim 2 (12.44%)', tfs: 4.5, tpt: 10.3 }),
    { yLab: { x: 23, fs: 4, fmt: v => String(v) }, refX: [0], refY: [0],
      ellipses: [{ p: pbEll1, color: ellGreen }, { p: pbEll2, color: ellRed }],
      legend: { box: [12, 1.7, 41, 20.7], y: 6.7, dy: 6.6, tx: 28, align: 'center', colorText: true, fs: 3,
                items: [{ t: 'TMTPlex1', c: pcaGreen }, { t: 'TMTPlex2', c: pcaRed }] } })
});

new Chart(mkCanvas(geo.pcaA), {
  type: 'scatter',
  data: { datasets: [
    pcaSet(paCenX, paCenY, paCenNames, ['r', 'r'], pcaMag, 'triangle'),
    pcaSet(paP1X, paP1Y, paP1Names, ['l', 'l', 'l', 'r', 'r', 'r', 'r'], pcaGreen),
    pcaSet(paP2X, paP2Y, paP2Names, ['r', 'r', 'r', 'r', 'b', 'l', 'b'], pcaRed)
  ] },
  options: baseOpts(geo.pcaA,
    axisX(geo.pcaA, -310, 305, pcaAXTicks, { pad: 4.1, fs: 4, title: 'Dim 1 (15.95%)', tfs: 4.5, tpb: 5.3 }),
    axisY(geo.pcaA, -178.4, 180.9, pcaAYTicks, { title: 'Dim 2 (12.49%)', tfs: 4.5, tpt: 3.3 }),
    { yLab: { x: 14, fs: 4, fmt: v => String(v) }, refX: [0], refY: [0],
      ellipses: [{ p: paEll1, color: ellGreen }, { p: paEll2, color: ellRed }],
      legend: { box: [11, 1, 40.7, 19.3], y: 6.7, dy: 6.6, tx: 28, align: 'center', colorText: true, fs: 3,
                items: [{ t: 'TMTPlex1', c: pcaGreen }, { t: 'TMTPlex2', c: pcaRed }] } })
});

const trimDensity = [tALS1_1, tALS2_1, tALS3_1, tHC1_1, tHC2_1, tHC3_1, tALS4_2, tALS5_2, tALS6_2, tHC4_2, tHC5_2, tHC6_2];
const trimColors = mergeGroup.map(g => g === 'ALS' ? 'rgba(166,206,227,0.95)' : 'rgba(31,120,180,0.85)');
new Chart(mkCanvas(geo.trim), {
  type: 'line',
  data: { datasets: curves(trimX, trimDensity, mergeSamples, trimColors, mergeSamples.map(() => 1.4)) },
  options: baseOpts(geo.trim,
    axisX(geo.trim, -8.76, 11.85, trimXTicks, { pad: 2.2, title: 'log2(Ratio)', tpb: 4 }),
    axisY(geo.trim, -0.0175, 0.4842, trimYTicks, { title: 'Density', tpt: 12 }),
    { yLab: { x: 22.7, fmt: v => v.toFixed(1) },
      legend: { title: 'Samples:', tx0: 15, ty: 4.7, y: 10.7, dy: 6.03, line: [6, 17], lw: 1.5, tx: 21, fs: 3.5,
                items: mergeSamples.map((t, k) => ({ t: t, c: trimColors[k] })) } })
});

new Chart(mkCanvas(geo.trimBox), {
  type: 'bar',
  data: { datasets: boxSets({ q1: trimQ1, med: trimMed, q3: trimQ3, whLo: trimWhLo, whHi: trimWhHi, outLo: trimOutLo, outHi: trimOutHi, spX: trimSpX, spY: trimSpY },
                            mergeGroup.map(g => grpPaired[g]), 15.5) },
  options: baseOpts(geo.trimBox,
    boxXAxis(geo.trimBox, 12, mergeSamples, 1, 4),
    axisY(geo.trimBox, -7.98, 10.97, trimBoxYTicks, {}),
    { yLab: { x: 11, fs: 4, fmt: v => String(v) },
      legend: { title: 'Colours:', tx0: 7, ty: 4.7, y: 11.3, dy: 5.7, line: [1, 14], lw: 1.4, pt: true, tx: 19, fs: 3.5,
                items: [{ t: 'ALS', c: grpPaired.ALS }, { t: 'HC', c: grpPaired.HC }] } })
});

new Chart(mkCanvas(geo.volc), {
  type: 'scatter',
  data: { datasets: [
    { type: 'scatter', data: pts(volcSigX, volcSigY), pointRadius: 1.5, backgroundColor: '#FF0000', borderColor: '#E00000', borderWidth: 0.3 },
    { type: 'scatter', data: pts(volcLabX, volcLabY), labels: volcLabText,
      sides: ['l', 'l', 'l', 'l', 'r', 'r', 'r', 'r', 'r', 'r', 'r', 'l', 'l', 'l', 'l', 'l', 'r', 'r', 'r', 'r'],
      labelColor: 'rgba(80,170,80,0.9)', labelSize: 3.4, pointRadius: 0 },
    { type: 'scatter', data: pts(volcMidX, volcMidY), pointRadius: 1.4, backgroundColor: '#D8D800', borderColor: '#C0C000', borderWidth: 0.3 },
    { type: 'scatter', data: pts(volcNsX, volcNsY), pointRadius: 1.4, backgroundColor: '#0A640A', borderColor: '#0A640A', borderWidth: 0.3 },
    { type: 'line', data: pts(volcCloudX, volcCloudY), fill: 'shape', backgroundColor: '#0A640A', borderColor: '#0A640A', borderWidth: 1.5, pointRadius: 0, tension: 0.25 },
    { type: 'line', data: pts(volcLabBlobLX, volcLabBlobLY), fill: 'shape', backgroundColor: 'rgba(130,200,130,0.32)', borderColor: 'rgba(130,200,130,0.35)', borderWidth: 1, pointRadius: 0, tension: 0.3 },
    { type: 'line', data: pts(volcLabBlobRX, volcLabBlobRY), fill: 'shape', backgroundColor: 'rgba(130,200,130,0.32)', borderColor: 'rgba(130,200,130,0.35)', borderWidth: 1, pointRadius: 0, tension: 0.3 }
  ] },
  options: baseOpts(geo.volc,
    axisX(geo.volc, -2.165, 2.288, volcXTicks, { pad: 3.5, title: 'log2(FC), median = -0.002', tfs: 4.5, tpb: 0.3 }),
    axisY(geo.volc, -0.13, 3.586, volcYTicks, { title: '-log10(p)', tfs: 4.5, tpt: 13.7 }),
    { yLab: { x: 26.7, fs: 4.5, fmt: v => v.toFixed(1) }, refX: volcFcCut, refY: volcPCut,
      refColor: 'rgba(255,90,90,0.75)', refDash: [1.2, 1.2] })
});

new Chart(mkCanvas(geo.pcaF), {
  type: 'scatter',
  data: { datasets: [
    pcaSet(pfCenX, pfCenY, pfCenNames, ['r', 'l', 'c', 'c', 'c'], pcaMag, 'triangle'),
    pcaSet(pfALSX, pfALSY, pfALSNames, ['a', 'l', 'l', 'r', 'l', 'l'], pcaGreen),
    pcaSet(pfHCX, pfHCY, pfHCNames, ['r', 'r', 'l', 'r', 'r', 'r'], pcaRed)
  ] },
  options: baseOpts(geo.pcaF,
    axisX(geo.pcaF, -18.73, 22.17, pcaFXTicks, { pad: 4.1, fs: 4, title: 'Dim 1 (41.17%)', tfs: 4.5, tpb: 0.3 }),
    axisY(geo.pcaF, -11.97, 12.07, pcaFYTicks, { title: 'Dim 2 (8.46%)', tfs: 4.5, tpt: 3.3 }),
    { yLab: { x: 18, fs: 4, fmt: v => String(v) }, refX: [0], refY: [0],
      ellipses: [{ p: pfEllALS, color: ellGreen }, { p: pfEllHC, color: ellRed }],
      legend: { box: [12, 1.6, 31, 18.3], y: 6.6, dy: 6.7, tx: 21, align: 'center', colorText: true, fs: 3.2,
                items: [{ t: 'ALS', c: pcaGreen }, { t: 'HC', c: pcaRed }] } })
});
</script>
</body>
</html>
